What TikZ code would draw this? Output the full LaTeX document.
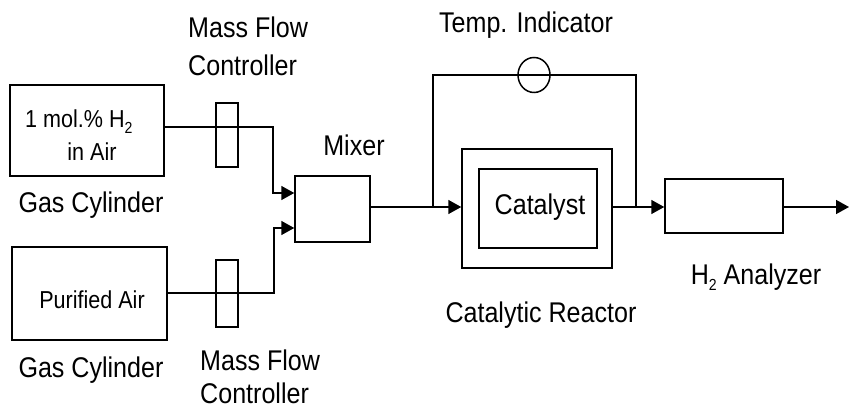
\documentclass[tikz,border=0pt]{standalone}
\usepackage{fontspec}
\setmainfont{Liberation Sans}
\newfontfamily\nf[FakeStretch=0.88]{Liberation Sans}
\usetikzlibrary{arrows.meta,shapes.geometric}
\newcommand{\subtwo}{\raisebox{-6pt}{\fontsize{16}{16}\selectfont 2}}
\begin{document}
\begin{tikzpicture}[x=1pt,y=-1pt,
  box/.style={draw,line width=1.5pt,inner sep=0pt},
  flow/.style={line width=1.5pt},
  arr/.style={flow,-{Triangle[length=13pt,width=14pt]}},
  lbl/.style={font=\nf\fontsize{28.5}{30}\selectfont,inner sep=0pt},
  small/.style={font=\nf\fontsize{24.5}{26}\selectfont,inner sep=0pt}]
\useasboundingbox (0,0) rectangle (849,411);
% boxes
\node[box,minimum width=154pt,minimum height=91pt] (cyl1) at (87,130.5) {};
\node[box,minimum width=155pt,minimum height=93pt] (cyl2) at (89.5,293.5) {};
\node[box,minimum width=75pt,minimum height=66pt] (mixer) at (332.5,209) {};
\node[box,minimum width=150pt,minimum height=119pt] (reactor) at (537,208.5) {};
\node[box,minimum width=118pt,minimum height=79pt] (cat) at (538,208.5) {};
\node[box,minimum width=118pt,minimum height=54pt] (ana) at (724,206) {};
% connectors
\coordinate (b1) at (273,127);
\coordinate (b2) at (274,293);
\draw[arr] (cyl1.east |- b1) -- (b1) -- (273,193) -- (mixer.west |- 0,193);
\draw[arr] (cyl2.east |- b2) -- (b2) -- (274,228) -- (mixer.west |- 0,228);
\draw[arr] (mixer.east |- 0,207) -- (reactor.west |- 0,207);
\draw[arr] (reactor.east |- 0,207) -- (ana.west |- 0,207);
\coordinate (out) at (849,207);
\draw[arr] (ana.east |- 0,207) -- (out);
\coordinate (bl) at (433,207);
\coordinate (br) at (636,207);
\draw[flow] (bl) -- (433,75) -- (636,75) -- (br);
% mass flow controllers and temp indicator (drawn over lines)
\node[box,minimum width=22pt,minimum height=64pt] (mfc1) at (227,135) {};
\node[box,minimum width=22pt,minimum height=67pt] (mfc2) at (227,293.5) {};
\node[draw,line width=1.5pt,ellipse,minimum width=32pt,minimum height=35pt,inner sep=0pt] (ti) at (534,75) {};
% texts
\node[small,anchor=west] (t1) at (25,122) {1 mol.\% H\subtwo};
\node[small] (t2) at (92,152) {in Air};
\node[small] (t3) at (92,300) {Purified Air};
\node[lbl] (g1) at (91,205) {Gas Cylinder};
\node[lbl] (g2) at (91,370) {Gas Cylinder};
\node[lbl,anchor=west] (m1a) at (188,27) {Mass Flow};
\node[lbl,anchor=west] (m1b) at (188,65) {Controller};
\node[lbl,anchor=west] (m2a) at (200,360) {Mass Flow};
\node[lbl,anchor=west] (m2b) at (200,393) {Controller};
\node[lbl] (mx) at (354,145) {Mixer};
\node[lbl] (tl) at (526,25) {Temp. Indicator};
\node[lbl] (ct) at (540,207) {Catalyst};
\node[lbl] (cr) at (541,315) {Catalytic Reactor};
\node[lbl] (hl) at (756,277) {H\subtwo\ Analyzer};
\end{tikzpicture}
\end{document}
